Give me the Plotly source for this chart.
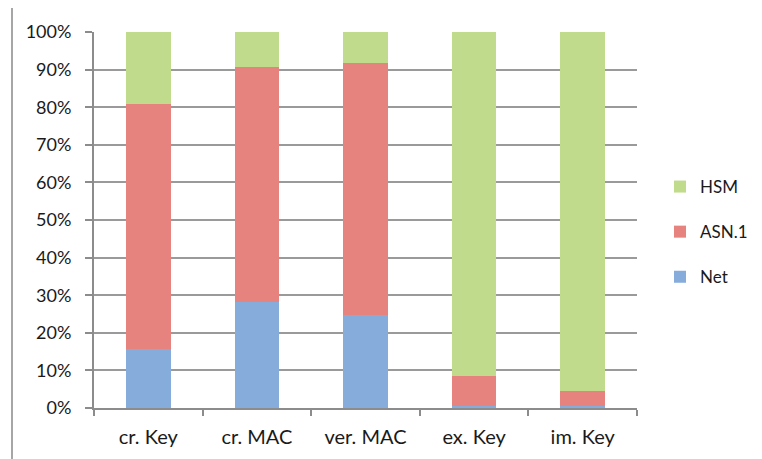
import plotly.graph_objects as go

categories = ["cr. Key", "cr. MAC", "ver. MAC", "ex. Key", "im. Key"]
net_values = [15.7, 28.2, 24.7, 0.5, 0.5]
asn1_values = [65.2, 62.5, 67.1, 8.0, 4.0]
hsm_values = [19.1, 9.3, 8.2, 91.5, 95.5]
y_tick_values = [0, 10, 20, 30, 40, 50, 60, 70, 80, 90, 100]
y_tick_labels = [f"{v}%" for v in y_tick_values]

# page body has an 8px margin, so figure coords = viewport coords - 8
OFF = 8
W, H = 754, 451
L, T = 94 - OFF, 32 - OFF
R = W - (637 - OFF)
B = H - (408 - OFF)
pw, ph = W - L - R, H - T - B

fig = go.Figure()
series = [
    ("Net", net_values, "#86ACDC", 3),
    ("ASN.1", asn1_values, "#E7837F", 2),
    ("HSM", hsm_values, "#C1DB8C", 1),
]
for name, vals, col, rank in series:
    fig.add_trace(go.Bar(
        x=categories, y=vals, name=name, width=0.41,
        marker=dict(color=col, line=dict(width=0)),
        legendgroup=name, legendrank=rank,
    ))

font = dict(family="Lato, 'Open Sans', sans-serif", size=18, color="#1a1a1a")
fig.update_layout(
    width=W, height=H,
    barmode="stack",
    margin=dict(l=L, r=R, t=T, b=B, pad=0, autoexpand=False),
    paper_bgcolor="white", plot_bgcolor="white",
    font=font,
    legend=dict(
        x=(660 - 94) / pw, y=(408 - 232) / ph, xanchor="left", yanchor="middle",
        traceorder="grouped", tracegroupgap=20,
        font=dict(size=17), itemwidth=30, bgcolor="rgba(0,0,0,0)",
    ),
    xaxis=dict(
        showgrid=False, showline=True, linecolor="#8c8c8c", linewidth=2,
        ticks="outside", tickson="boundaries", ticklen=6, tickcolor="#8c8c8c", tickwidth=2,
        ticklabelstandoff=10, tickfont=dict(size=20),
    ),
    yaxis=dict(
        range=[0, 100], tickvals=y_tick_values, ticktext=y_tick_labels,
        showgrid=True, gridcolor="#9a9a9a", gridwidth=2,
        showline=True, linecolor="#8c8c8c", linewidth=2,
        ticks="outside", ticklen=7, tickcolor="#8c8c8c", tickwidth=2,
        ticklabelstandoff=10, zeroline=False,
    ),
    shapes=[dict(
        type="rect", xref="paper", yref="paper",
        x0=(12 - 94) / pw, x1=2, y0=-1, y1=(408 - 5) / ph,
        line=dict(color="#a6a6a6", width=2), fillcolor="rgba(0,0,0,0)",
        layer="below",
    )],
)

fig.write_html("out.html")
